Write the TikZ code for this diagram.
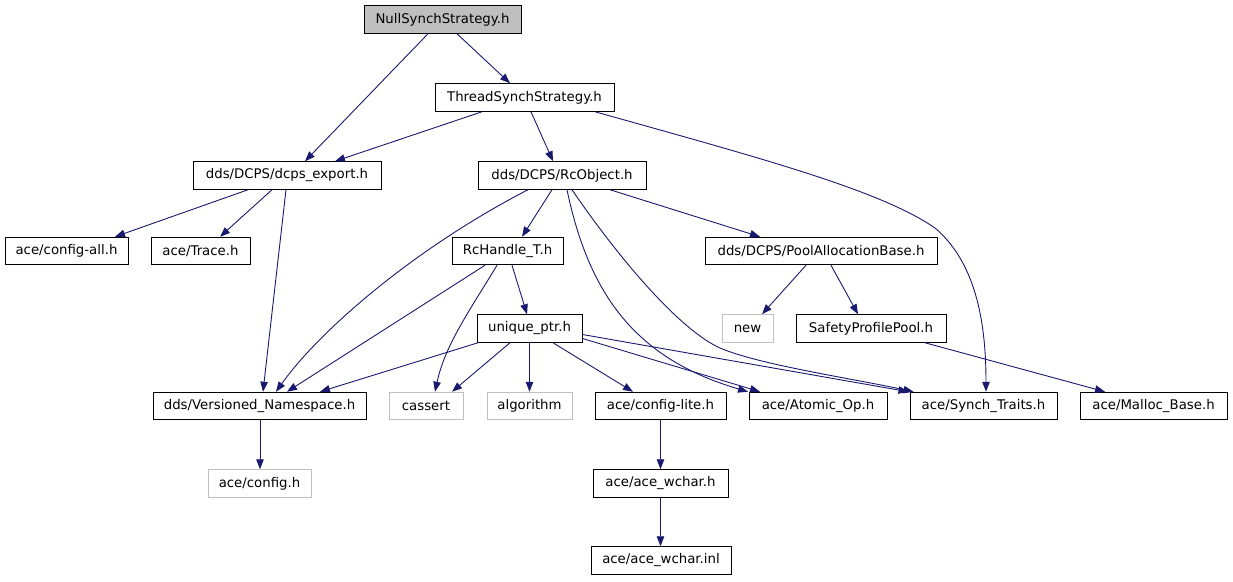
\documentclass[tikz,border=0pt]{standalone}
\usepackage{fontspec}
\setmainfont{DejaVu Sans}
\usetikzlibrary{arrows.meta}
\definecolor{edgeblue}{RGB}{25,25,112}
\definecolor{extgray}{RGB}{191,191,191}
\begin{document}
\begin{tikzpicture}[x=1pt,y=-1pt,
  box/.style={draw=black,line width=1pt,minimum height=27.5pt,inner sep=0pt,
    font=\fontsize{13.3}{16}\selectfont,text=black},
  extbox/.style={box,draw=extgray},
  rootbox/.style={box,fill=extgray},
  edge/.style={draw=edgeblue,line width=0.9pt,-{Triangle[length=10pt,width=7.5pt]}}]
\useasboundingbox (0,0) rectangle (1233,581);
\node[rootbox,minimum width=157pt] (null) at (442.5,19.5) {NullSynchStrategy.h};
\node[box,minimum width=179pt] (thread) at (524.5,97.5) {ThreadSynchStrategy.h};
\node[box,minimum width=188pt] (dcps) at (287,175.5) {dds/DCPS/dcps\_export.h};
\node[box,minimum width=168pt] (rcobj) at (562,175.5) {dds/DCPS/RcObject.h};
\node[box,minimum width=123pt] (cfgall) at (66.5,251) {ace/config-all.h};
\node[box,minimum width=99pt] (trace) at (200.5,251) {ace/Trace.h};
\node[box,minimum width=111pt] (rch) at (507.5,251) {RcHandle\_T.h};
\node[box,minimum width=232pt] (pool) at (821,251) {dds/DCPS/PoolAllocationBase.h};
\node[box,minimum width=105pt] (uptr) at (529.5,328.5) {unique\_ptr.h};
\node[extbox,minimum width=51pt] (new) at (747.5,328.5) {new};
\node[box,minimum width=150pt] (safety) at (871,328.5) {SafetyProfilePool.h};
\node[box,minimum width=213pt] (vns) at (259.5,406) {dds/Versioned\_Namespace.h};
\node[extbox,minimum width=74pt] (cassert) at (426,406) {cassert};
\node[extbox,minimum width=85pt] (algo) at (529.5,406) {algorithm};
\node[box,minimum width=131pt] (cfglite) at (660.5,406) {ace/config-lite.h};
\node[box,minimum width=138pt] (atomic) at (818,406) {ace/Atomic\_Op.h};
\node[box,minimum width=147pt] (synch) at (983.5,406) {ace/Synch\_Traits.h};
\node[box,minimum width=147pt] (malloc) at (1153.5,406) {ace/Malloc\_Base.h};
\node[extbox,minimum width=103pt] (config) at (259.5,483.5) {ace/config.h};
\node[box,minimum width=135pt] (wchar) at (660.5,483.5) {ace/ace\_wchar.h};
\node[box,minimum width=140pt] (wcharinl) at (661,560.5) {ace/ace\_wchar.inl};

\draw[edge] ([xshift=-14.5]null.south) -- ([xshift=18]dcps.north);
\draw[edge] ([xshift=14.5]null.south) -- ([xshift=-14.5]thread.north);
\draw[edge] ([xshift=-42.5]thread.south) -- ([xshift=48]dcps.north);
\draw[edge] ([xshift=6.5]thread.south) -- ([xshift=-9]rcobj.north);
\draw[edge] ([xshift=70.5]thread.south) .. controls (760,158) and (880,190) .. (935,228)
  .. controls (975,262) and (986,320) .. ([xshift=2.5]synch.north);
\draw[edge] ([xshift=-39]dcps.south) -- ([xshift=48.5]cfgall.north);
\draw[edge] ([xshift=-15]dcps.south) -- ([xshift=19.5]trace.north);
\draw[edge] ([xshift=-1]dcps.south) -- ([xshift=3.5]vns.north);
\draw[edge] ([xshift=-34]rcobj.south) .. controls (415,248) and (320,330) .. ([xshift=16.5]vns.north);
\draw[edge] ([xshift=-10]rcobj.south) -- ([xshift=14.5]rch.north);
\draw[edge] ([xshift=5]rcobj.south) .. controls (590,300) and (640,360) .. ([xshift=-70]atomic.north);
\draw[edge] ([xshift=10]rcobj.south) .. controls (620,260) and (680,330) .. (720,348)
  .. controls (760,365) and (850,378) .. ([xshift=-70]synch.north);
\draw[edge] ([xshift=48]rcobj.south) -- ([xshift=-61]pool.north);
\draw[edge] ([xshift=-22.5]rch.south) -- ([xshift=27.5]vns.north);
\draw[edge] ([xshift=-10.5]rch.south) .. controls (470,310) and (445,345) .. ([xshift=9]cassert.north);
\draw[edge] ([xshift=4.5]rch.south) -- ([xshift=-2.5]uptr.north);
\draw[edge] ([xshift=-15]pool.south) -- ([xshift=14.5]new.north);
\draw[edge] ([xshift=10]pool.south) -- ([xshift=-13]safety.north);
\draw[edge] ([xshift=54]safety.south) -- ([xshift=-48.5]malloc.north);
\draw[edge] ([xshift=-51.5]uptr.south) -- ([xshift=60.5]vns.north);
\draw[edge] ([xshift=-19.5]uptr.south) -- ([xshift=26]cassert.north);
\draw[edge] (uptr.south) -- (algo.north);
\draw[edge] ([xshift=23.5]uptr.south) -- ([xshift=-27.5]cfglite.north);
\draw[edge] ([yshift=-10]uptr.east) -- ([xshift=-58]atomic.north);
\draw[edge] ([yshift=-6]uptr.east) -- ([xshift=-75]synch.north);
\draw[edge] ([xshift=0.5]vns.south) -- ([xshift=0.5]config.north);
\draw[edge] (cfglite.south) -- (wchar.north);
\draw[edge] (wchar.south) -- ([xshift=-0.5]wcharinl.north);
\end{tikzpicture}
\end{document}
